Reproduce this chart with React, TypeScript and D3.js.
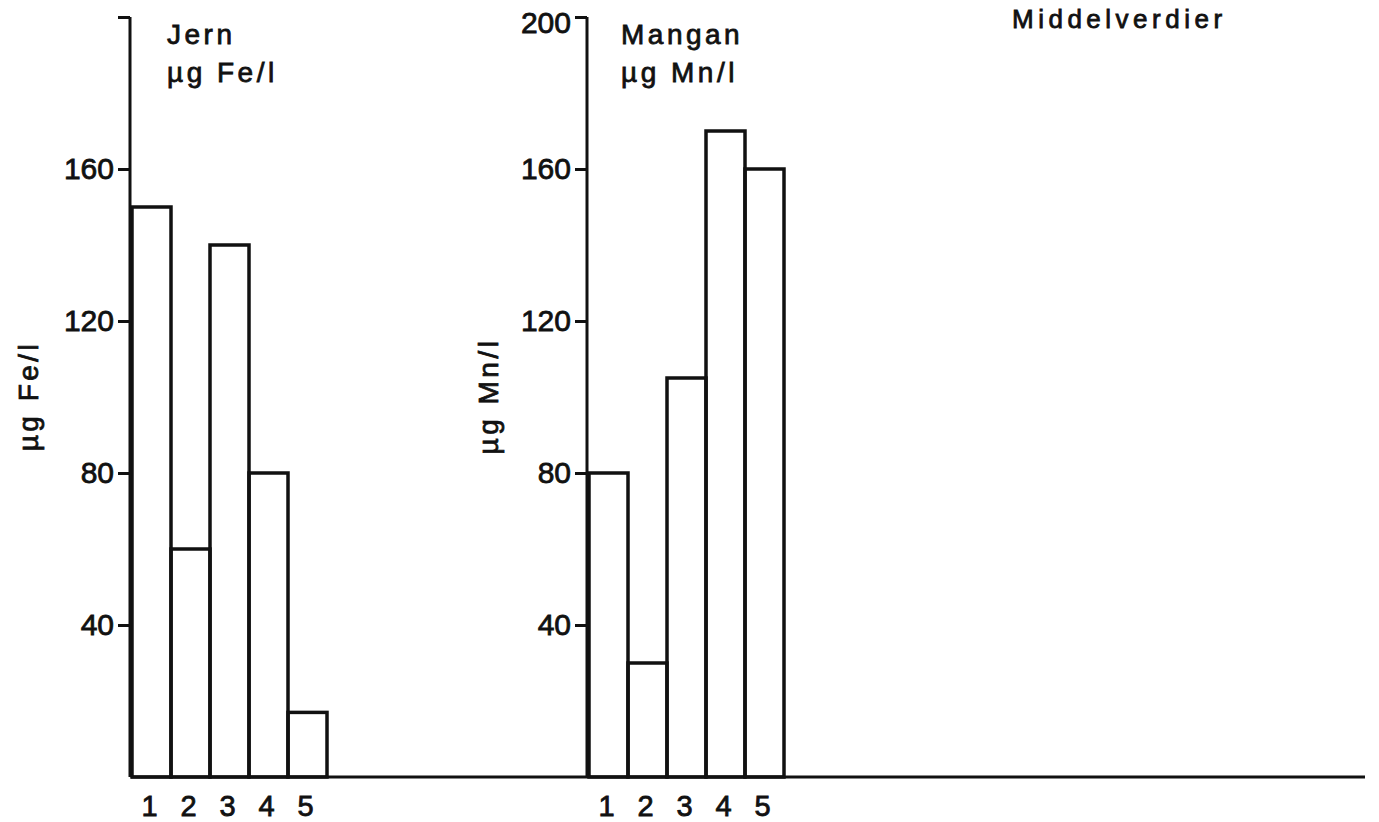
import React, { useEffect, useRef } from "react";
import * as d3 from "d3";

// stations along x
const stations = ["1", "2", "3", "4", "5"];
// Jern, µg Fe/l
const ironValues = [150, 60, 140, 80, 17];
// Mangan, µg Mn/l
const manganValues = [80, 30, 105, 170, 160];
const yTicks = [40, 80, 120, 160, 200];

export default function App() {
  const svgRef = useRef<SVGSVGElement>(null);

  useEffect(() => {
    if (!svgRef.current) return;
    const width = 1379;
    const height = 822;
    const svg = d3.select(svgRef.current);
    svg.selectAll("*").remove();

    const font = "'Liberation Sans', Arial, sans-serif";
    const ink = "#111";
    const y = d3.scaleLinear().domain([0, 200]).range([777, 17]);

    // text helper: slightly heavier strokes like the drafted lettering
    const inked = (sel: any, size: number, spacing = 0) =>
      sel.style("font-family", font)
        .style("font-size", `${size}px`)
        .style("letter-spacing", `${spacing}px`)
        .attr("fill", ink)
        .attr("stroke", ink)
        .attr("stroke-width", 0.8);

    // shared baseline running under both panels
    svg.append("line")
      .attr("x1", 131).attr("x2", 1365)
      .attr("y1", y(0)).attr("y2", y(0))
      .attr("stroke", ink).attr("stroke-width", 3);

    const panels = [
      { axisX: 130, start: 132, values: ironValues, title: ["Jern", "µg Fe/l"], titleX: 167, ylab: "µg Fe/l", ylabX: 28, topLabel: false },
      { axisX: 587, start: 589, values: manganValues, title: ["Mangan", "µg Mn/l"], titleX: 621, ylab: "µg Mn/l", ylabX: 488, topLabel: true },
    ];

    panels.forEach(p => {
      const x = d3.scaleBand().domain(stations).range([p.start, p.start + 5 * 39]).padding(0);
      const g = svg.append("g");

      // bars
      g.selectAll(".bar")
        .data(p.values)
        .enter()
        .append("rect")
        .attr("x", (_, i) => x(stations[i])!)
        .attr("y", d => y(d))
        .attr("width", x.bandwidth())
        .attr("height", d => y(0) - y(d))
        .attr("fill", "none")
        .attr("stroke", ink)
        .attr("stroke-width", 3.5);

      // y axis
      const axisG = g.append("g").attr("transform", `translate(${p.axisX},0)`);
      axisG.call(
        d3.axisLeft(y)
          .tickValues(yTicks)
          .tickSize(12)
          .tickPadding(4)
          .tickFormat(d => (+d === 200 && !p.topLabel ? "" : String(d)))
      );
      axisG.select(".domain").remove();
      axisG.append("line")
        .attr("y1", y(200)).attr("y2", y(0))
        .attr("stroke", ink).attr("stroke-width", 3);
      axisG.selectAll(".tick line").attr("stroke", ink).attr("stroke-width", 3);
      inked(axisG.selectAll(".tick text"), 30);
      // keep the top label inside the frame
      axisG.selectAll(".tick text").filter((d: any) => d === 200).attr("dy", "0.5em");

      // x labels
      inked(
        g.selectAll(".xl")
          .data(stations)
          .enter()
          .append("text")
          .attr("x", d => x(d)! + x.bandwidth() / 2 - 2)
          .attr("y", 816)
          .attr("text-anchor", "middle")
          .text(d => d),
        29
      );

      // title
      p.title.forEach((t, i) => {
        inked(
          g.append("text")
            .attr("x", p.titleX)
            .attr("y", 44 + i * 38)
            .text(t),
          28, 3.5
        );
      });

      // rotated y label
      inked(
        g.append("text")
          .attr("transform", `translate(${p.ylabX},396) rotate(-90)`)
          .attr("text-anchor", "middle")
          .attr("dominant-baseline", "central")
          .text(p.ylab),
        28, 3.5
      );
    });

    // legend heading at top edge
    inked(
      svg.append("text")
        .attr("x", 1012)
        .attr("y", 28)
        .text("Middelverdier"),
      26, 4.5
    );

    svg.attr("width", width).attr("height", height);
  }, []);

  return (
    <svg
      ref={svgRef}
      width={1379}
      height={822}
      style={{ position: "absolute", left: 0, top: 0, background: "#fff" }}
    />
  );
}
